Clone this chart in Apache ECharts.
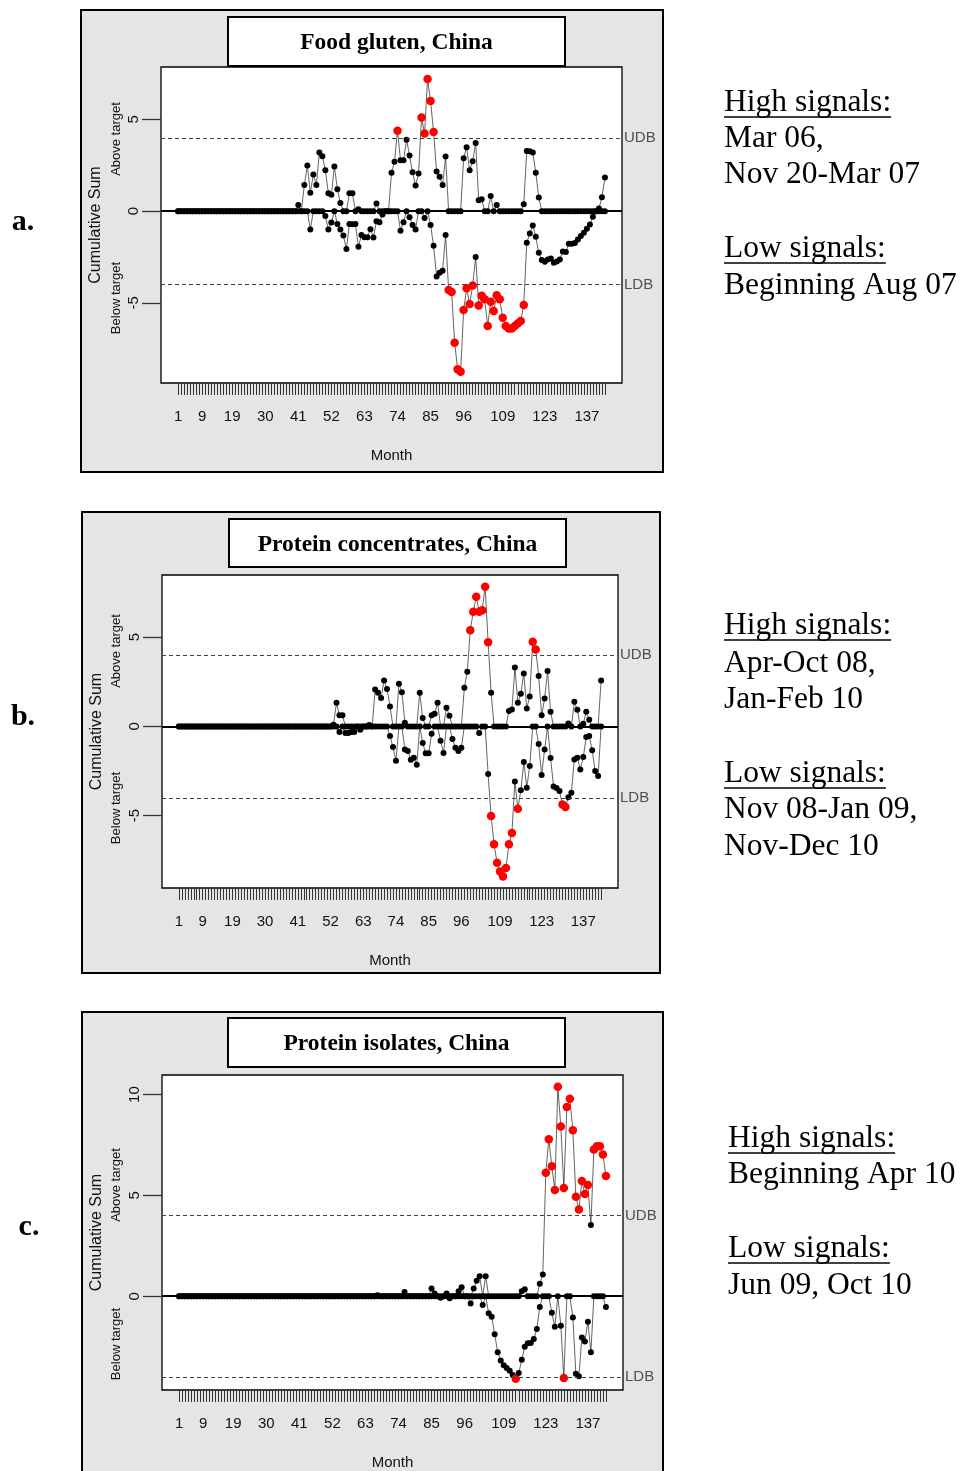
<!DOCTYPE html>
<html>
<head>
<meta charset="utf-8">
<script src="https://cdn.jsdelivr.net/npm/echarts@6/dist/echarts.min.js"></script>
<style>
html,body{margin:0;padding:0;background:#fff;}
#c{width:964px;height:1471px;}
</style>
</head>
<body>
<div id="c"></div>
<script>
// ---------------- DATA ----------------
var monthLabels = [1, 9, 19, 30, 41, 52, 63, 74, 85, 96, 109, 123, 137];
var nMonths = 143;
var upperBound = 4, lowerBound = -4;

var titleA = 'Food gluten, China';
var titleB = 'Protein concentrates, China';
var titleC = 'Protein isolates, China';

// Panel a: Food gluten (months 1..143)
var upperA = [
 0,0,0,0,0,0,0,0,0,0,
 0,0,0,0,0,0,0,0,0,0,
 0,0,0,0,0,0,0,0,0,0,
 0,0,0,0,0,0,0,0,0,0,
 0.33,0,1.42,2.49,1.0,2.0,1.42,3.2,3.0,2.23,
 0.98,0.9,2.43,1.2,0.44,0,0,0.97,0.97,0,
 0.1,0,0,0,0,0,0.42,0,0,0,
 0,2.09,2.7,4.39,2.78,2.78,3.9,3.03,2.12,1.4,
 2.05,5.1,4.23,7.2,6.0,4.32,2.16,1.87,1.42,2.98,
 0,0,0,0,0,2.89,3.48,2.23,2.72,3.72,
 0.6,0.65,0,0,0.82,0,0.33,0,0,0,
 0,0,0,0,0,0.38,3.28,3.27,3.2,2.1,
 0.74,0,0,0,0,0,0,0,0,0,
 0,0,0,0,0,0,0,0,0,0,
 0.15,0.76,1.83];
var lowerA = [
 0,0,0,0,0,0,0,0,0,0,
 0,0,0,0,0,0,0,0,0,0,
 0,0,0,0,0,0,0,0,0,0,
 0,0,0,0,0,0,0,0,0,0,
 0,0,0,0,-1.0,0,0,0,0,-0.27,
 -1.0,-0.62,0,-0.7,-1.0,-1.33,-2.07,-0.7,-0.72,-0.7,
 -1.94,-1.3,-1.42,-1.42,-0.98,-1.43,-0.55,-0.6,-0.18,0,
 0,0,0,0,-1.07,-0.6,0,-0.33,-0.76,-1.0,
 0,0,-0.38,0,-0.76,-1.89,-3.56,-3.36,-3.25,-1.3,
 -4.3,-4.41,-7.17,-8.62,-8.75,-5.39,-4.21,-5.06,-4.05,-2.5,
 -5.14,-4.61,-4.81,-6.26,-4.94,-5.44,-4.59,-4.81,-5.81,-6.26,
 -6.4,-6.4,-6.26,-6.12,-5.99,-5.12,-1.72,-1.22,-0.78,-1.4,
 -2.27,-2.67,-2.76,-2.63,-2.58,-2.81,-2.74,-2.63,-2.2,-2.23,
 -1.78,-1.78,-1.74,-1.54,-1.36,-1.18,-0.96,-0.73,-0.31,0,
 0,0,0];

// Panel b: Protein concentrates
var upperB = [
 0,0,0,0,0,0,0,0,0,0,
 0,0,0,0,0,0,0,0,0,0,
 0,0,0,0,0,0,0,0,0,0,
 0,0,0,0,0,0,0,0,0,0,
 0,0,0,0,0,0,0,0,0,0,
 0,0,0.1,1.32,0.62,0.62,0,0,0,0,
 0,0,0,0,0.08,0,2.07,1.88,1.59,2.57,
 2.1,1.12,0,0,2.39,1.92,0.2,0,0,0,
 0,1.88,0.47,0,0,0.62,0.71,1.32,0,0,
 1.04,0.6,0,0,0,0,2.16,3.06,5.39,6.42,
 7.26,6.42,6.51,7.82,4.72,1.88,0,0,0,0,
 0,0.86,0.95,3.3,1.32,1.83,2.97,1.0,1.68,4.74,
 4.31,2.82,0.62,1.57,3.1,0.82,0,0,0,0,
 0,0.17,0,1.38,0.93,0,0.15,0.82,0.37,0,
 0,0,2.57];
var lowerB = [
 0,0,0,0,0,0,0,0,0,0,
 0,0,0,0,0,0,0,0,0,0,
 0,0,0,0,0,0,0,0,0,0,
 0,0,0,0,0,0,0,0,0,0,
 0,0,0,0,0,0,0,0,0,0,
 0,0,0,0,-0.32,0,-0.37,-0.37,-0.32,-0.32,
 0,-0.19,0,0,0,0,0,0,0,0,
 0,-0.54,-1.16,-1.92,0,0,-1.29,-1.38,-1.87,-1.75,
 -2.15,0,-0.93,-1.51,-1.51,-0.41,0,0,-0.8,-1.49,
 0,0,-0.71,-1.19,-1.38,-1.19,0,0,0,0,
 0,-0.37,0,0,-2.67,-5.02,-6.6,-7.63,-8.13,-8.41,
 -7.93,-6.6,-5.97,-3.08,-4.61,-3.58,-2.0,-3.43,-2.22,0,
 0,-0.99,-2.72,-1.29,0,-1.77,-3.36,-3.45,-3.62,-4.37,
 -4.51,-3.97,-3.71,-1.85,-1.75,-2.41,-1.72,-0.6,-0.54,-1.34,
 -2.5,-2.78,0];

// Panel c: Protein isolates
var upperC = [
 0,0,0,0,0,0,0,0,0,0,
 0,0,0,0,0,0,0,0,0,0,
 0,0,0,0,0,0,0,0,0,0,
 0,0,0,0,0,0,0,0,0,0,
 0,0,0,0,0,0,0,0,0,0,
 0,0,0,0,0,0,0,0,0,0,
 0,0,0,0,0,0,0.05,0,0,0,
 0,0,0,0,0,0.21,0,0,0,0,
 0,0,0,0,0.38,0.13,0,0,0,0.13,
 0,0,0,0.25,0.44,0,0,0,0.38,0.77,
 0.99,0,0.99,0,0,0,0,0,0,0,
 0,0,0,0,0.25,0.34,0,0,0,0,
 0.62,1.08,6.12,7.78,6.45,5.27,10.39,8.42,5.37,9.38,
 9.79,8.23,4.93,4.3,5.71,5.07,5.52,3.53,7.27,7.44,
 7.44,7.03,5.96];
var lowerC = [
 0,0,0,0,0,0,0,0,0,0,
 0,0,0,0,0,0,0,0,0,0,
 0,0,0,0,0,0,0,0,0,0,
 0,0,0,0,0,0,0,0,0,0,
 0,0,0,0,0,0,0,0,0,0,
 0,0,0,0,0,0,0,0,0,0,
 0,0,0,0,0,0,0,0,0,0,
 0,0,0,0,0,0,0,0,0,0,
 0,0,0,0,0,0,0,-0.08,0,0,
 -0.1,0,0,0,0,0,0,-0.36,0,0,
 0,-0.44,0,-0.85,-1.02,-1.89,-2.78,-3.19,-3.42,-3.56,
 -3.69,-3.9,-4.09,-3.81,-3.15,-2.51,-2.33,-2.32,-2.12,-1.63,
 -0.53,0,0,0,-0.82,-1.51,0,-1.46,-4.06,0,
 0,-1.05,-3.84,-3.97,-2.05,-2.25,-1.26,-2.78,0,0,
 0,0,-0.53];

var notesA = [['High signals:', true], ['Mar 06,'], ['Nov 20-Mar 07'], ['Low signals:', true], ['Beginning Aug 07']];
var notesB = [['High signals:', true], ['Apr-Oct 08,'], ['Jan-Feb 10'], ['Low signals:', true], ['Nov 08-Jan 09,'], ['Nov-Dec 10']];
var notesC = [['High signals:', true], ['Beginning Apr 10'], ['Low signals:', true], ['Jun 09, Oct 10']];

var yTicksA = [-5, 0, 5], yTicksB = [-5, 0, 5], yTicksC = [0, 5, 10];

// ---------------- LAYOUT ----------------
var panels = [
  {grid:{left:161, top:67, width:461, height:316}, ymin:-9.37, ymax:7.86, yt:yTicksA,
   up:upperA, lo:lowerA, box:[81,10,582,462], tbox:[228,17,337,49], title:titleA, titleY:43,
   letter:'a.', letterPos:[23,222], aboveY:139, belowY:298, notes:notesA, noteX:724,
   noteY:[103,139,175,249,286]},
  {grid:{left:162, top:575, width:456, height:313}, ymin:-9.05, ymax:8.48, yt:yTicksB,
   up:upperB, lo:lowerB, box:[82,512,578,461], tbox:[229,519,337,48], title:titleB, titleY:545,
   letter:'b.', letterPos:[23,717], aboveY:651, belowY:808, notes:notesB, noteX:724,
   noteY:[626,664,700,774,810,847]},
  {grid:{left:162, top:1075, width:461, height:316}, ymin:-4.65, ymax:10.97, yt:yTicksC,
   up:upperC, lo:lowerC, box:[82,1012,581,470], tbox:[228,1018,337,49], title:titleC, titleY:1044,
   letter:'c.', letterPos:[29,1227], aboveY:1185, belowY:1344, notes:notesC, noteX:728,
   noteY:[1139,1175,1249,1286]}
];

var allTicks = [];
for (var t = 1; t <= nMonths; t++) allTicks.push(t);

var measureCtx = document.createElement('canvas').getContext('2d');
var noteFont = '31.5px "Liberation Serif"';
measureCtx.font = noteFont;

var grids = [], xAxes = [], yAxes = [], series = [], graphics = [];
var axisFont = 'Liberation Sans';

function pointData(arr) {
  return arr.map(function (v, k) {
    var sig = v > upperBound || v < lowerBound;
    return {value: [k + 1, v], symbolSize: sig ? 8.5 : 6,
            itemStyle: {color: sig ? '#ff0000' : '#000000'}};
  });
}

panels.forEach(function (p, i) {
  grids.push(Object.assign({show:true, backgroundColor:'#ffffff', borderColor:'#000', borderWidth:1.3}, p.grid));
  xAxes.push({
    gridIndex:i, type:'value', position:'bottom', min:-4.68, max:148.68,
    axisLine:{show:false, onZero:false}, splitLine:{show:false},
    axisTick:{show:true, length:12, customValues:allTicks, lineStyle:{color:'#333', width:1}},
    axisLabel:{customValues:monthLabels, margin:26, fontSize:15, color:'#111', fontFamily:axisFont},
    name:'Month', nameLocation:'middle', nameGap:65,
    nameTextStyle:{fontSize:15, color:'#111', fontFamily:axisFont}
  });
  yAxes.push({
    gridIndex:i, type:'value', position:'left', min:p.ymin, max:p.ymax,
    axisLine:{show:false, onZero:false}, splitLine:{show:false},
    axisTick:{show:true, length:19, customValues:p.yt, lineStyle:{color:'#333', width:1.3}},
    axisLabel:{customValues:p.yt, rotate:90, margin:20, fontSize:15, color:'#111', fontFamily:axisFont},
    name:'Cumulative Sum', nameLocation:'middle', nameGap:57,
    nameTextStyle:{fontSize:16, color:'#111', fontFamily:axisFont}
  });
  var common = {
    type:'line', xAxisIndex:i, yAxisIndex:i, symbol:'circle', showAllSymbol:true,
    lineStyle:{color:'#222', width:0.7}, animation:false, silent:true, z:3
  };
  series.push(Object.assign({}, common, {
    name:'Above target', data:pointData(p.up),
    markLine:{
      silent:true, symbol:'none', animation:false,
      data:[
        {yAxis:upperBound, name:'UDB', lineStyle:{type:[4,3], color:'#444', width:1},
         label:{show:true, position:'end', formatter:'UDB', color:'#505050', fontSize:15, fontFamily:axisFont, distance:2}},
        {yAxis:lowerBound, name:'LDB', lineStyle:{type:[4,3], color:'#444', width:1},
         label:{show:true, position:'end', formatter:'LDB', color:'#505050', fontSize:15, fontFamily:axisFont, distance:2}},
        {yAxis:0, name:'target', lineStyle:{type:'solid', color:'#000', width:2}, label:{show:false}}
      ]
    }
  }));
  series.push(Object.assign({}, common, {name:'Below target', data:pointData(p.lo)}));

  // panel background
  graphics.push({type:'rect', z:-10, shape:{x:p.box[0], y:p.box[1], width:p.box[2], height:p.box[3]},
    style:{fill:'#e5e5e5', stroke:'#000', lineWidth:2}});
  // title box
  graphics.push({type:'rect', z:100, shape:{x:p.tbox[0], y:p.tbox[1], width:p.tbox[2], height:p.tbox[3]},
    style:{fill:'#ffffff', stroke:'#000', lineWidth:2}});
  graphics.push({type:'text', z:101, x:p.tbox[0] + p.tbox[2] / 2, y:p.titleY,
    style:{text:p.title, font:'bold 23.5px "Liberation Serif"', fill:'#000',
      align:'center', verticalAlign:'middle', textAlign:'center', textVerticalAlign:'middle'}});
  // panel letter
  graphics.push({type:'text', z:101, x:p.letterPos[0], y:p.letterPos[1],
    style:{text:p.letter, font:'bold 30px "Liberation Serif"', fill:'#000',
      align:'center', verticalAlign:'middle', textAlign:'center', textVerticalAlign:'middle'}});
  // above / below target
  [[ 'Above target', p.aboveY], ['Below target', p.belowY]].forEach(function (a) {
    graphics.push({type:'text', z:101, x:116, y:a[1], rotation:Math.PI / 2,
      style:{text:a[0], font:'13px "Liberation Sans"', fill:'#111',
        align:'center', verticalAlign:'middle', textAlign:'center', textVerticalAlign:'middle'}});
  });
  // notes
  p.notes.forEach(function (n, k) {
    var y = p.noteY[k];
    graphics.push({type:'text', z:101, x:p.noteX, y:y,
      style:{text:n[0], font:noteFont, fill:'#000',
        align:'left', verticalAlign:'middle', textAlign:'left', textVerticalAlign:'middle'}});
    if (n[1]) {
      var w = measureCtx.measureText(n[0]).width;
      graphics.push({type:'line', z:101, shape:{x1:p.noteX, y1:y + 14, x2:p.noteX + w, y2:y + 14},
        style:{stroke:'#000', lineWidth:1.6}});
    }
  });
});

var chart = echarts.init(document.getElementById('c'), null, {renderer:'canvas', width:964, height:1471});
chart.setOption({
  backgroundColor:'#ffffff',
  animation:false,
  grid:grids, xAxis:xAxes, yAxis:yAxes, series:series,
  graphic:{elements:graphics}
});
</script>
</body>
</html>
